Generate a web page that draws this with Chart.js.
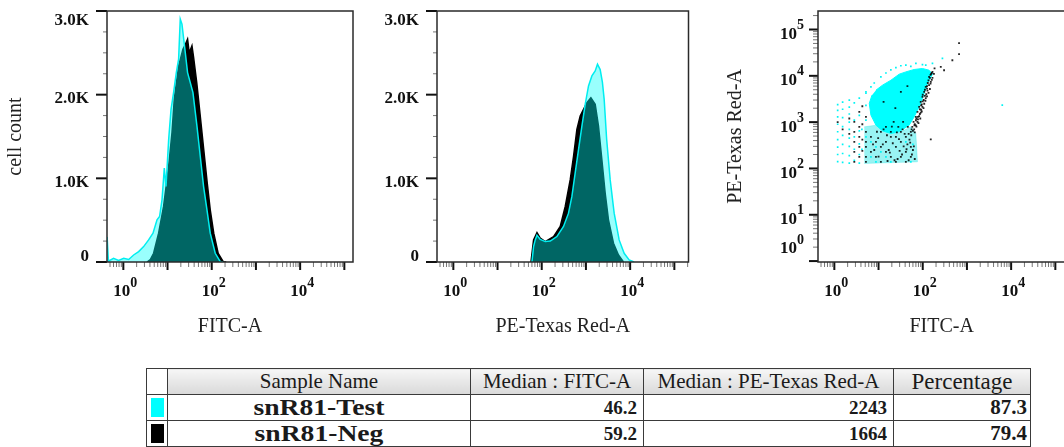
<!DOCTYPE html>
<html>
<head>
<meta charset="utf-8">
<script src="https://cdn.jsdelivr.net/npm/chart.js@4.4.1/dist/chart.umd.min.js"></script>
<style>
  html, body { margin: 0; padding: 0; background: #fff; }
  body { position: relative; width: 1064px; height: 447px; overflow: hidden; }
  canvas { position: absolute; top: 0; }
  #fitc-hist { left: 0; }
  #pe-hist { left: 360px; }
  #dot-plot { left: 700px; }
  .stats { position: absolute; left: 146px; top: 368px; width: 884px; border-collapse: collapse; table-layout: fixed;
           font-family: "Liberation Serif", serif; color: #1a1a1a; }
  .stats th, .stats td { border: 1.5px solid #3a3a3a; padding: 0; white-space: nowrap; overflow: hidden; }
  .stats th { height: 25px; line-height: 25px; background: linear-gradient(#f6f6f6, #d9d9d9); font-weight: normal; font-size: 21px; }
  .stats th.sw { background: #fff; }
  .stats th.pct { font-size: 23px; }
  .stats td { height: 25px; line-height: 25px; }
  .sw i { display: block; width: 13px; height: 19px; margin: 0 auto; }
  .stats td.name { text-align: center; font-weight: bold; font-size: 24px; }
  .name span { display: inline-block; transform: scaleX(1.15); }
  .stats td.num { text-align: right; font-weight: bold; font-size: 19px; padding-right: 6px; }
  .stats td.pct { font-size: 21px; padding-right: 3px; }
</style>
</head>
<body>
<canvas id="fitc-hist" width="360" height="345"></canvas>
<canvas id="pe-hist" width="340" height="345"></canvas>
<canvas id="dot-plot" width="370" height="345"></canvas>
<table class="stats" id="stats">
  <colgroup><col style="width:21px"><col style="width:303px"><col style="width:173px"><col style="width:250px"><col style="width:137px"></colgroup>
</table>
<script>
// FITC-A histogram: intensity / cell count
const fitcTestX = [0.43, 0.46, 0.60, 0.78, 1.02, 1.32, 1.71, 2.22, 2.88, 3.73, 4.69, 5.78, 6.61, 7.50, 8.45, 9.23, 10.6, 12.0, 13.7, 15.8, 17.8, 19.4, 21.2, 25.2, 28.4, 32.7, 37.6, 46.3, 55.0, 65.3, 78.0, 92.5, 120, 156, 180];
const fitcTestCount = [300, 10, 44, 20, 44, 30, 84, 124, 184, 264, 344, 504, 544, 744, 1124, 904, 1464, 1824, 2024, 2264, 2424, 2904, 2844, 2504, 2264, 2144, 2024, 1624, 1264, 904, 624, 344, 104, 4, 0];
const fitcNegX = [3.43, 4.08, 4.84, 6.28, 8.14, 10.6, 12.6, 14.2, 17.8, 22.3, 25.2, 28.4, 31.0, 35.7, 38.8, 45.8, 55.0, 65.9, 79.1, 92.5, 111, 140, 182, 213];
const fitcNegCount = [0, 30, 104, 344, 664, 1144, 1544, 1944, 2344, 2544, 2600, 2664, 2500, 2584, 2450, 2144, 1744, 1344, 944, 624, 344, 104, 4, 0];

// PE-Texas Red-A histogram
const peTestX = [60.0, 65.3, 71.3, 78.0, 92.5, 120, 156, 220, 311, 403, 481, 571, 679, 810, 962, 1143, 1363, 1619, 1824, 2099, 2356, 2585, 2944, 3533, 4350, 5640, 7315, 9490, 12300];
const peTestCount = [0, 184, 264, 320, 270, 244, 250, 304, 424, 584, 784, 1064, 1344, 1624, 1884, 2104, 2224, 2284, 2364, 2300, 2150, 1944, 1464, 984, 584, 264, 104, 24, 0];
const peNegX = [57.0, 65.3, 78.0, 92.5, 120, 185, 262, 340, 441, 524, 624, 741, 881, 1050, 1294, 1619, 1923, 2291, 2723, 3235, 4198, 5445, 7061];
const peNegCount = [0, 264, 352, 284, 244, 304, 424, 664, 984, 1264, 1584, 1744, 1824, 1904, 1964, 1884, 1624, 1224, 824, 504, 224, 84, 0];

// dot plot FITC-A vs PE-Texas Red-A
// outline of the dense cyan cloud and of the mixed lower region
const testCloudFitc = [8.74, 12.3, 19.1, 29.3, 41.5, 64.0, 98.5, 139, 166, 128, 108, 83, 64, 49.3, 29.3, 19.1, 12.3, 8.74, 6.73, 6.17, 7.10];
const testCloudPe = [4900, 6280, 8050, 10850, 12160, 13700, 14400, 13240, 10850, 6840, 4160, 2140, 1300, 861, 617, 570, 649, 861, 1415, 2530, 3820];
const mixFitc = [4.76, 8.73, 14.7, 29.3, 53.8, 69.8, 76, 4.76];
const mixPe = [791, 861, 617, 587, 791, 570, 139, 128];
// single events
const testDotFitc = [1.19, 1.19, 1.19, 1.19, 1.19, 1.19, 1.19, 1.19, 1.19,
  1.54, 1.54, 1.54, 1.54, 1.54, 1.54, 1.54, 1.54,
  2.18, 2.18, 2.18, 2.18, 2.18, 2.18, 2.18, 2.18, 2.18,
  2.83, 2.83, 2.83, 2.83, 2.83,
  3.67, 3.67, 3.67, 3.67, 3.67, 3.67,
  5.19, 5.19, 5.19,
  11.3, 14.7, 19, 24.7, 32, 41.5, 53.8, 70, 98.6, 117, 166, 279, 6.73, 5.19, 8,
  5.19, 6.73, 8.73, 11.3, 14.7, 19, 6.73, 8.73, 41.5, 53.8, 60, 4.2, 4.2,
  6300];
const testDotPe = [2400, 1800, 1300, 900, 620, 420, 290, 200, 140,
  2700, 1900, 1250, 800, 520, 330, 210, 135,
  3000, 2100, 1500, 1000, 700, 450, 300, 190, 130,
  2600, 1100, 480, 260, 150,
  3300, 1400, 650, 340, 200, 130,
  4200, 2300, 1100,
  9490, 11500, 13500, 15000, 16500, 17000, 16000, 18500, 17500, 17000, 18500, 23700, 5780, 4510, 7000,
  481, 375, 293, 228, 178, 139, 178, 139, 375, 139, 330, 700, 260,
  2325];
const negDotFitc = [166, 150, 139, 166, 152, 130, 139, 117, 145, 108, 128, 120, 98.6, 117, 105, 90, 108, 83, 98.6, 92, 76, 90, 69.8, 83, 78, 62, 76, 58, 69.8, 53.8, 64, 48,
  155, 125, 112, 100, 95, 86, 72, 66, 56,
  160, 145, 135, 150, 125, 135, 112, 125, 100, 115, 92, 104, 86, 95, 78, 88, 70, 80, 65, 72, 60, 55, 66,
  185, 179, 160,
  256, 304, 468, 663, 663, 152,
  5.19, 6.73, 8.73, 11.3, 14.7, 19, 24.7, 32, 41.5, 53.8, 8.73, 11.3, 14.7, 19, 24.7, 32, 41.5, 53.8, 6.73, 5.19,
  11.3, 14.7, 19, 24.7, 32, 41.5, 28, 36, 46, 22, 17, 27, 37, 45, 60, 9.8, 13, 7.5, 16, 30, 50,
  8, 10, 12.5, 15.5, 18, 21, 23, 26, 29, 34, 39, 43, 48, 52, 57, 63, 66, 20, 35, 9.2,
  2.83, 2.83, 2.83, 2.83, 2.83, 3.67, 3.67, 3.67, 3.67, 3.67, 5.19, 5.19, 5.19, 5.19, 2.18, 2.18, 1.54, 1.19, 4.3, 4.3, 4.3, 4.3,
  32, 13, 45, 24];
const negDotPe = [12200, 10500, 9490, 9000, 7410, 7000, 6300, 5780, 5200, 4510, 4800, 4000, 3520, 3300, 3000, 2740, 2500, 2140, 2140, 1850, 1670, 1600, 1300, 1350, 1150, 1014, 1014, 791, 850, 617, 700, 560,
  11000, 6000, 5000, 3900, 2400, 1900, 1200, 900, 700,
  11500, 9000, 8000, 6800, 5300, 4300, 3700, 3600, 2800, 2900, 2300, 2000, 1500, 1700, 1300, 1200, 1100, 950, 850, 800, 650, 520, 600,
  14500, 11000, 8200,
  15600, 13200, 21700, 51000, 29400, 425,
  617, 481, 375, 293, 228, 178, 139, 178, 228, 293, 178, 139, 375, 481, 293, 375, 139, 178, 228, 293,
  617, 791, 617, 481, 617, 481, 791, 1014, 791, 1014, 250, 160, 300, 330, 250, 450, 700, 330, 145, 240, 420,
  250, 180, 330, 520, 220, 350, 150, 600, 430, 200, 560, 260, 150, 360, 200, 300, 160, 800, 700, 620,
  1014, 617, 375, 228, 139, 1670, 791, 481, 293, 178, 1300, 375, 178, 139, 1200, 560, 700, 1000, 2200, 900, 420, 240,
  4510, 2740, 6000, 2000];

// axis ticks
const countTicks = [0, 250, 500, 750, 1000, 1250, 1500, 1750, 2000, 2250, 2500, 2750, 3000];
const countMajor = [0, 1000, 2000, 3000];
const countMajorLabels = ['0', '1.0K', '2.0K', '3.0K'];
const xLabelValues = [1, 100, 10000];
const xLabelExps = ['0', '2', '4'];
const yLabelValues = [1, 10, 100, 1000, 10000, 100000];
const yLabelExps = ['0', '1', '2', '3', '4', '5'];

// table
const sampleNames = ['snR81-Test', 'snR81-Neg'];
const sampleColors = ['#00ffff', '#000000'];
const medianFitc = [46.2, 59.2];
const medianPe = [2243, 1664];
const percentage = [87.3, 79.4];

const pts = (xs, ys) => xs.map((x, i) => ({ x: x, y: ys[i] }));
const clamp = (v, lo, hi) => Math.min(Math.max(v, lo), hi);

function logTicks(lo, hi) {
  const out = [];
  for (let e = lo; e <= hi; e++) {
    for (let m = 1; m <= 9; m++) out.push({ v: m * Math.pow(10, e), major: m === 1 });
  }
  return out;
}

function tickLine(ctx, x1, y1, x2, y2, major) {
  ctx.beginPath();
  ctx.lineWidth = major ? 2 : 1;
  ctx.strokeStyle = major ? '#111' : '#777';
  ctx.moveTo(x1, y1);
  ctx.lineTo(x2, y2);
  ctx.stroke();
}

// "10" with a raised exponent, like the FlowJo axis labels
function powLabel(ctx, exp, x, y, anchor) {
  ctx.font = 'bold 17px "Liberation Serif"';
  const wBase = ctx.measureText('10').width;
  ctx.font = 'bold 14px "Liberation Serif"';
  const wExp = ctx.measureText(exp).width;
  const left = anchor === 'right' ? x - wBase - wExp : x - (wBase + wExp) / 2;
  ctx.textAlign = 'left';
  ctx.textBaseline = 'middle';
  ctx.font = 'bold 17px "Liberation Serif"';
  ctx.fillText('10', left, y);
  ctx.font = 'bold 14px "Liberation Serif"';
  ctx.fillText(exp, left + wBase, y - 9);
}

const flowAxes = {
  id: 'flowAxes',
  afterDraw(chart, args, opts) {
    const { ctx, chartArea: a } = chart;
    const xs = chart.scales.x, ys = chart.scales.y;
    ctx.save();
    ctx.fillStyle = '#111';
    logTicks(-1, 5).forEach(t => {
      if (t.v < xs.min || t.v > xs.max) return;
      const px = xs.getPixelForValue(t.v);
      tickLine(ctx, px, a.bottom, px, a.bottom + (t.major ? 8 : 5), t.major);
    });
    xLabelValues.forEach((v, i) => powLabel(ctx, xLabelExps[i], xs.getPixelForValue(v) + 2, a.bottom + 30, 'center'));

    if (opts.yKind === 'log') {
      logTicks(-1, 5).forEach(t => {
        if (t.v < ys.min || t.v > ys.max) return;
        const py = ys.getPixelForValue(t.v);
        tickLine(ctx, a.left - (t.major ? 9 : 5), py, a.left, py, t.major);
      });
      yLabelValues.forEach((v, i) => {
        const py = ys.getPixelForValue(v);
        powLabel(ctx, yLabelExps[i], a.left - 14, clamp(py + 5, a.top + 10, a.bottom - 13), 'right');
      });
    } else {
      countTicks.forEach(v => {
        const major = countMajor.includes(v);
        const py = ys.getPixelForValue(v);
        tickLine(ctx, a.left - (major ? 11 : 4), py, a.left, py, major);
      });
      ctx.font = 'bold 17px "Liberation Serif"';
      ctx.textAlign = 'right';
      ctx.textBaseline = 'middle';
      countMajor.forEach((v, i) => {
        const py = ys.getPixelForValue(v);
        ctx.fillText(countMajorLabels[i], a.left - 18, clamp(py + 4, a.top + 10, a.bottom - 5));
      });
    }

    ctx.lineWidth = 1.5;
    ctx.strokeStyle = '#2a2a2a';
    ctx.strokeRect(a.left, a.top, a.right - a.left, a.bottom - a.top);
    ctx.restore();
  }
};

const titleFont = { family: 'Liberation Serif', size: 20 };

function flowChart(id, datasets, xMax, yScale, xTitle, yTitle, yWidth, rightPad, yKind) {
  return new Chart(document.getElementById(id), {
    type: 'scatter',
    data: { datasets: datasets },
    options: {
      responsive: false,
      animation: false,
      events: [],
      layout: { padding: { top: 11, right: rightPad, bottom: 0, left: 0 } },
      plugins: { legend: { display: false }, tooltip: { enabled: false }, flowAxes: { yKind: yKind } },
      scales: {
        x: {
          type: 'logarithmic', min: 0.427, max: xMax,
          grid: { display: false }, border: { display: false }, ticks: { display: false },
          title: { display: true, text: xTitle, font: titleFont, color: '#222', padding: { top: 0, bottom: 6 } },
          afterFit: s => { s.height = 83; }
        },
        y: Object.assign({
          grid: { display: false }, border: { display: false }, ticks: { display: false },
          title: { display: !!yTitle.text, text: yTitle.text, font: titleFont, color: '#222', padding: { top: yTitle.pad, bottom: 0 } },
          afterFit: s => { s.width = yWidth; }
        }, yScale)
      }
    },
    plugins: [flowAxes]
  });
}

function histSets(testX, testCount, negX, negCount) {
  return [
    { data: pts(testX, testCount), showLine: true, fill: 'origin', tension: 0, pointRadius: 0,
      backgroundColor: 'rgba(0, 255, 250, 0.4)', borderColor: '#00eef0', borderWidth: 1.5 },
    { data: pts(negX, negCount), showLine: true, fill: 'origin', tension: 0, pointRadius: 0,
      backgroundColor: '#000', borderColor: '#000', borderWidth: 1.5 }
  ];
}

const countScale = { type: 'linear', min: 0, max: 3000 };

flowChart('fitc-hist', histSets(fitcTestX, fitcTestCount, fitcNegX, fitcNegCount), 157000, countScale,
  'FITC-A', { text: 'cell count', pad: 4 }, 107, 7, 'count');

flowChart('pe-hist', histSets(peTestX, peTestCount, peNegX, peNegCount), 209000, countScale,
  'PE-Texas Red-A', { text: '', pad: 0 }, 77, 11.5, 'count');

flowChart('dot-plot', [
    { data: pts(negDotFitc, negDotPe), pointStyle: 'rect', pointRadius: 1.3, borderWidth: 0,
      backgroundColor: 'rgba(0, 0, 0, 0.85)' },
    { data: pts(testDotFitc, testDotPe), pointStyle: 'rect', pointRadius: 1.2, borderWidth: 0,
      backgroundColor: '#00f4f4' },
    { data: pts(testCloudFitc, testCloudPe), showLine: true, fill: 'shape', tension: 0, pointRadius: 0,
      backgroundColor: '#00ffff', borderColor: '#00ffff', borderWidth: 1 },
    { data: pts(mixFitc, mixPe), showLine: true, fill: 'shape', tension: 0, pointRadius: 0,
      backgroundColor: 'rgba(0, 225, 225, 0.4)', borderColor: 'rgba(0, 225, 225, 0.25)', borderWidth: 1 }
  ], 168000, { type: 'logarithmic', min: 0.955, max: 251000 },
  'FITC-A', { text: 'PE-Texas Red-A', pad: 24 }, 118, 4.7, 'log');

// statistics table
const table = document.getElementById('stats');
let html = '<tr><th class="sw"></th><th>Sample Name</th><th>Median : FITC-A</th><th>Median : PE-Texas Red-A</th><th class="pct">Percentage</th></tr>';
sampleNames.forEach((name, i) => {
  html += '<tr><td class="sw"><i style="background:' + sampleColors[i] + '"></i></td>' +
    '<td class="name"><span>' + name + '</span></td>' +
    '<td class="num">' + medianFitc[i].toFixed(1) + '</td>' +
    '<td class="num">' + medianPe[i] + '</td>' +
    '<td class="num pct">' + percentage[i].toFixed(1) + '</td></tr>';
});
table.insertAdjacentHTML('beforeend', html);
</script>
</body>
</html>
